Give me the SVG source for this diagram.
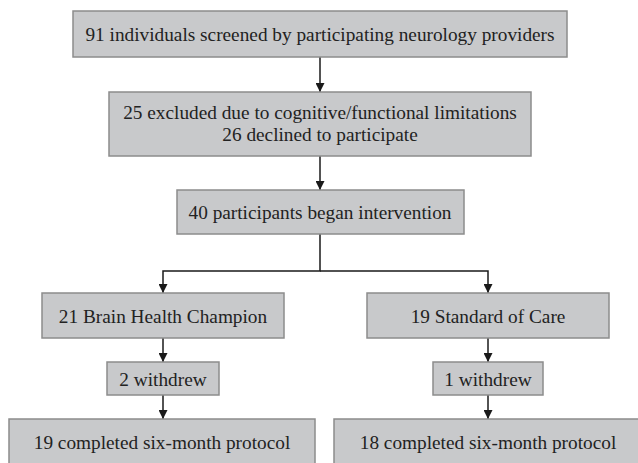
<svg xmlns="http://www.w3.org/2000/svg" width="638" height="463" viewBox="0 0 638 463">
<style>
.box{fill:#c8c9cb;stroke:#8c8c8c;stroke-width:1.5}
.t{font-family:'Liberation Serif','Times New Roman',Times,serif;font-size:19.3px;fill:#222;text-anchor:middle}
.c{fill:none;stroke:#1a1a1a;stroke-width:1.5}
</style>
<defs>
<marker id="ah" viewBox="0 0 10 10" refX="10" refY="5" markerWidth="6" markerHeight="6" markerUnits="strokeWidth" orient="auto">
<path d="M0,0 L10,5 L0,10 z" fill="#1a1a1a"/>
</marker>
</defs>
<rect width="638" height="463" fill="#fff"/>
<g id="connectors">
<path class="c" d="M320,57 V92" marker-end="url(#ah)"/>
<path class="c" d="M320,156 V190" marker-end="url(#ah)"/>
<path class="c" d="M320,234 V271 H163 V293" marker-end="url(#ah)"/>
<path class="c" d="M320,271 H488 V293" marker-end="url(#ah)"/>
<path class="c" d="M163,338 V362" marker-end="url(#ah)"/>
<path class="c" d="M163,395 V419" marker-end="url(#ah)"/>
<path class="c" d="M488,338 V362" marker-end="url(#ah)"/>
<path class="c" d="M488,395 V419" marker-end="url(#ah)"/>
</g>
<g id="screened">
<rect class="box" x="73" y="11" width="494" height="46"/>
<text class="t" x="320" y="41">91 individuals screened by participating neurology providers</text>
</g>
<g id="excluded">
<rect class="box" x="109" y="92" width="422" height="64"/>
<text class="t" x="320" y="119">25 excluded due to cognitive/functional limitations</text>
<text class="t" x="320" y="141">26 declined to participate</text>
</g>
<g id="began">
<rect class="box" x="177" y="190" width="287" height="44"/>
<text class="t" x="320" y="219">40 participants began intervention</text>
</g>
<g id="bhc">
<rect class="box" x="42" y="293" width="242" height="45"/>
<text class="t" x="163" y="323">21 Brain Health Champion</text>
</g>
<g id="soc">
<rect class="box" x="367" y="293" width="242" height="45"/>
<text class="t" x="488" y="323">19 Standard of Care</text>
</g>
<g id="withdrew-bhc">
<rect class="box" x="107" y="362" width="112" height="33"/>
<text class="t" x="163" y="386">2 withdrew</text>
</g>
<g id="withdrew-soc">
<rect class="box" x="433" y="362" width="110" height="33"/>
<text class="t" x="488" y="386">1 withdrew</text>
</g>
<g id="completed-bhc">
<rect class="box" x="9" y="419" width="306" height="50"/>
<text class="t" x="162" y="449">19 completed six-month protocol</text>
</g>
<g id="completed-soc">
<rect class="box" x="334" y="419" width="308" height="50"/>
<text class="t" x="488" y="449">18 completed six-month protocol</text>
</g>
</svg>
